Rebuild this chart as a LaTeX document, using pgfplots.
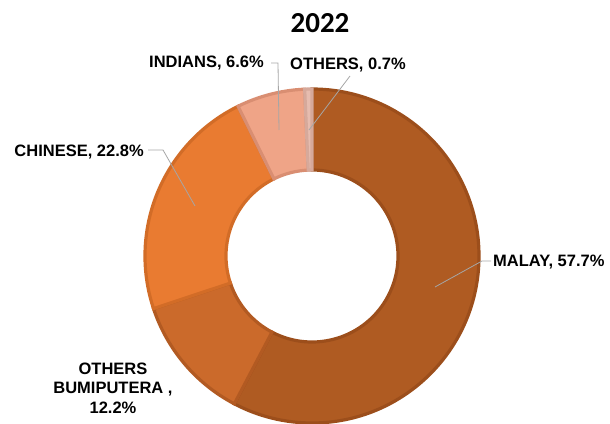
\documentclass[border=0pt]{standalone}
\usepackage{pgfplots}
\usepackage{pgfplotstable}
\pgfplotsset{compat=1.18}
\usepackage{fontspec}
\setmainfont{Liberation Sans}
\newfontfamily\titlefont{Carlito}

\definecolor{cMalay}{HTML}{AF5B22}
\definecolor{dMalay}{HTML}{9C4E1B}
\definecolor{cBumi}{HTML}{CB6A2B}
\definecolor{dBumi}{HTML}{B25A22}
\definecolor{cChin}{HTML}{E97B31}
\definecolor{dChin}{HTML}{D26C27}
\definecolor{cInd}{HTML}{EFA487}
\definecolor{dInd}{HTML}{D98E72}
\definecolor{cOth}{HTML}{E6BCAF}
\definecolor{dOth}{HTML}{D6A99B}
\definecolor{leader}{HTML}{A6A6A6}

\pgfplotstableread{
label value
Malay 57.7
OthersBumiputera 12.2
Chinese 22.8
Indians 6.6
Others 0.7
}\datatable

\pgfplotstablegetelem{0}{value}\of\datatable \let\vA\pgfplotsretval
\pgfplotstablegetelem{1}{value}\of\datatable \let\vB\pgfplotsretval
\pgfplotstablegetelem{2}{value}\of\datatable \let\vC\pgfplotsretval
\pgfplotstablegetelem{3}{value}\of\datatable \let\vD\pgfplotsretval
\pgfplotstablegetelem{4}{value}\of\datatable \let\vE\pgfplotsretval
\pgfmathsetmacro\aO{90}
\pgfmathsetmacro\aA{\aO-3.6*\vA}
\pgfmathsetmacro\aB{\aA-3.6*\vB}
\pgfmathsetmacro\aC{\aB-3.6*\vC}
\pgfmathsetmacro\aD{\aC-3.6*\vD}
\pgfmathsetmacro\aE{\aD-3.6*\vE}

\newcommand{\slice}[4]{%
  \filldraw[fill=#3, draw=#4, line width=3.2pt, line join=miter]
    (axis cs:312,167) ++(#1:167pt) arc[start angle=#1, end angle=#2, radius=167pt]
    -- ++(#2+180:81pt) arc[start angle=#2, end angle=#1, radius=86pt] -- cycle;}

\begin{document}
\begin{tikzpicture}
\begin{axis}[
  x=1pt, y=1pt, xmin=0, xmax=610, ymin=0, ymax=423,
  hide axis, clip=false,
]
\slice{\aO}{\aA}{cMalay}{dMalay}
\slice{\aA}{\aB}{cBumi}{dBumi}
\slice{\aB}{\aC}{cChin}{dChin}
\slice{\aC}{\aD}{cInd}{dInd}
\slice{\aD}{\aE}{cOth}{dOth}

% leader lines
\draw[leader, line width=0.8pt] (axis cs:271,360) -- (axis cs:278,360) -- (axis cs:279,293);
\draw[leader, line width=0.8pt] (axis cs:350,347) -- (axis cs:309,293);
\draw[leader, line width=0.8pt] (axis cs:148,273) -- (axis cs:163,273) -- (axis cs:195,217);
\draw[leader, line width=0.8pt] (axis cs:491,162) -- (axis cs:482,162) -- (axis cs:435,136);

% labels
\node[font=\titlefont\bfseries\fontsize{29}{32}\selectfont] at (axis cs:320,400) {2022};
\node[font=\bfseries\fontsize{16.5}{19}\selectfont, anchor=east, inner sep=0pt] at (axis cs:264,360) {INDIANS, 6.6\%};
\node[font=\bfseries\fontsize{16.5}{19}\selectfont, anchor=west, inner sep=0pt] at (axis cs:290,358) {OTHERS, 0.7\%};
\node[font=\bfseries\fontsize{16.5}{19}\selectfont, anchor=east, inner sep=0pt] at (axis cs:144,271) {CHINESE, 22.8\%};
\node[font=\bfseries\fontsize{16.5}{19}\selectfont, anchor=west, inner sep=0pt] at (axis cs:493,161) {MALAY, 57.7\%};
\node[font=\bfseries\fontsize{16.5}{19.5}\selectfont, align=center, inner sep=0pt] at (axis cs:113,35) {OTHERS\\BUMIPUTERA ,\\12.2\%};
\end{axis}
\pgfresetboundingbox
\path[use as bounding box] (0,0) rectangle (610pt,423pt);
\end{tikzpicture}
\end{document}
